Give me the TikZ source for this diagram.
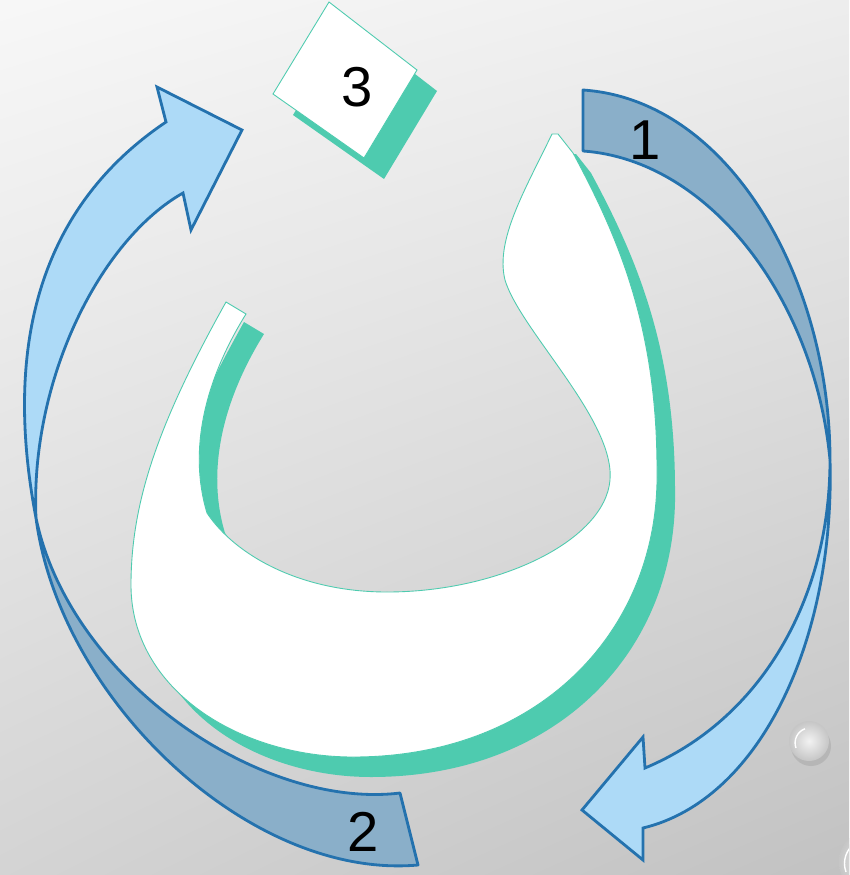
\documentclass[tikz,border=0pt]{standalone}
\usepackage{fontspec}
\setmainfont{Liberation Sans}
\usepackage{xcolor}
\usetikzlibrary{calc, shadings}

\definecolor{nunteal}{HTML}{4ECBAF}
\definecolor{arrowline}{HTML}{2472AE}
\definecolor{backblue}{HTML}{8AAFC9}
\definecolor{frontblue}{HTML}{ADDAF7}

% outline of the letter, in pixel units (y runs down)
\newcommand{\nunoutline}{(226,302) .. controls (160,420) and (131,500) .. (131,585)
  .. controls (131,690) and (240,757) .. (353,757)
  .. controls (540,757) and (660,630) .. (657,470)
  .. controls (657,330) and (620,240) .. (573,153)
  -- (558,134) -- (552,134)
  .. controls (525,190) and (495,240) .. (505,280)
  .. controls (520,330) and (615,420) .. (610,480)
  .. controls (605,540) and (500,592) .. (387,592)
  .. controls (300,592) and (235,555) .. (207,513)
  .. controls (188,450) and (205,380) .. (246,314) -- cycle}
\newcommand{\cardoutline}{(329,2) -- (417,70) -- (364,158) -- (273,94) -- cycle}

\begin{document}
\begin{tikzpicture}[
    x=0.02cm, y=-0.02cm,
    letter/.style={fill=white, draw=nunteal, line width=0.5pt},
    lettershadow/.style={fill=nunteal},
    backband/.style={fill=backblue, draw=arrowline, line width=1.6pt, line join=round},
    frontband/.style={fill=frontblue, draw=arrowline, line width=1.6pt, line join=miter},
    digit/.style={font=\fontsize{32}{36}\selectfont, text=black, inner sep=0pt},
    bubble/.style={inner color=gray!10, outer color=gray!45}
]
\useasboundingbox (0,0) rectangle (849,875);

% Background
\shade[upper left=black!3, upper right=black!7, lower left=black!17, lower right=black!24] (0,0) rectangle (849,875);

% Bubbles
\begin{scope}
\clip (0,0) rectangle (849,875);
\fill[gray!70, opacity=0.5] (811,746) circle (0.4cm);
\shade[bubble] (809,741) circle (0.4cm);
\draw[white, line width=0.8pt] (796,748) arc[start angle=200, end angle=110, radius=0.3cm];
\fill[gray!70, opacity=0.5] (874,866) circle (0.66cm);
\shade[bubble] (872,862) circle (0.66cm);
\draw[white, line width=0.8pt] (846,872) arc[start angle=200, end angle=120, radius=0.5cm];
\end{scope}

% Letter
\begin{scope}[shift={(18,20)}]
\fill[lettershadow] \nunoutline;
\end{scope}
\path[letter] \nunoutline;

% Card
\begin{scope}[shift={(20,21)}]
\fill[lettershadow] \cardoutline;
\end{scope}
\path[letter] \cardoutline;

% Arrows
\path[backband] (583,90) .. controls (730,100) and (830,280) .. (830,460)
  .. controls (815,300) and (710,160) .. (583,151) -- cycle;
\path[frontband] (830,460) .. controls (830,600) and (760,720) .. (645,768)
  -- (643,737) -- (582,810) -- (643,860) -- (643,828)
  .. controls (760,800) and (835,640) .. (830,460) -- cycle;

\path[backband] (36,518) .. controls (60,700) and (250,880) .. (418,865)
  -- (400,793) .. controls (260,810) and (70,680) .. (36,518) -- cycle;
\path[frontband] (36,518) .. controls (0,330) and (50,200) .. (166,122)
  -- (157,87) -- (242,130) -- (191,230) -- (183,193)
  .. controls (100,240) and (30,380) .. (36,518) -- cycle;

% Labels
\node (one) [digit] at (645,140) {1};
\node (two) [digit] at (363,832) {2};
\node (three) [digit] at (357,87) {3};

\end{tikzpicture}
\end{document}
